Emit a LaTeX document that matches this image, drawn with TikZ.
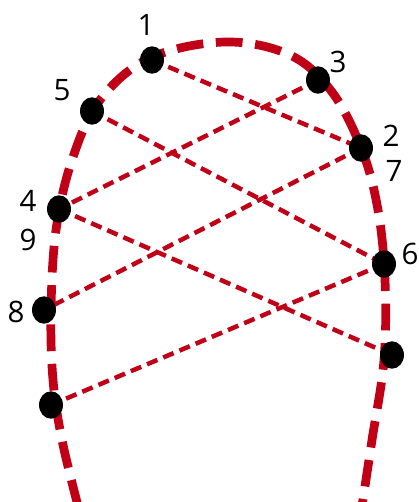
\documentclass[tikz,border=0pt]{standalone}
\usepackage{fontspec}
\setmainfont{Open Sans}
\usetikzlibrary{shapes.geometric,backgrounds}
\definecolor{lacered}{RGB}{192,0,22}

\begin{document}
\begin{tikzpicture}[x=0.025cm, y=-0.025cm,
    outline/.style={draw=lacered, line width=6.2pt, dash pattern=on 19pt off 9pt},
    lace/.style={draw=lacered, line width=3.2pt, dash pattern=on 8pt off 4.5pt},
    eyelet/.style={ellipse, fill=black, inner sep=0pt, minimum width=17pt, minimum height=19.5pt},
    num/.style={font=\fontsize{21}{24}\selectfont, inner sep=0pt}
]
\useasboundingbox (0,0) rectangle (419,502);

% eyelets
\node[eyelet] (e1) at (152,60) {};
\node[eyelet] (e3) at (318,80) {};
\node[eyelet] (e5) at (92,111) {};
\node[eyelet] (e2) at (361,148) {};
\node[eyelet] (e4) at (59,209) {};
\node[eyelet] (e6) at (384,264) {};
\node[eyelet] (e8) at (44,310) {};
\node[eyelet] (e10) at (392,355) {};
\node[eyelet] (e11) at (51,405) {};

\begin{scope}[on background layer]
% outline of the shoe
\draw[outline] plot[smooth, tension=0.6] coordinates {(78,506) (62,440) (53,380) (51,310)
    (56,230) (72,160) (100,100) (150,58) (225,42) (290,55) (332,92) (362,150)
    (378,210) (385,280) (384,360) (372,440) (362,506)};
% lacing
\draw[lace] (e1.center) -- (e2.center);
\draw[lace] (e3.center) -- (e4.center);
\draw[lace] (e5.center) -- (e6.center);
\draw[lace] (e2.center) -- (e8.center);
\draw[lace] (e4.center) -- (e10.center);
\draw[lace] (e6.center) -- (e11.center);
\end{scope}

% numbers
\node[num] (n1) at (146,25) {1};
\node[num] (n3) at (338,62) {3};
\node[num] (n5) at (62,90) {5};
\node[num] (n2) at (391,136) {2};
\node[num] (n7) at (394,171) {7};
\node[num] (n4) at (28,201) {4};
\node[num] (n9) at (28,240) {9};
\node[num] (n6) at (410,254) {6};
\node[num] (n8) at (16,312) {8};
\end{tikzpicture}
\end{document}
